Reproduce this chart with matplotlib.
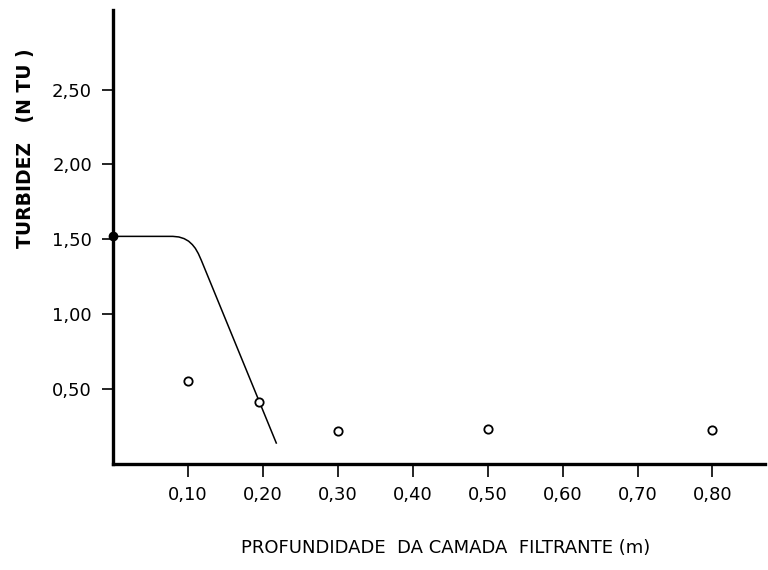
import numpy as np
import matplotlib.pyplot as plt

# pontos medidos (circulos abertos)
prof = [0.10, 0.195, 0.30, 0.50, 0.80]
turbidez = [0.555, 0.415, 0.222, 0.233, 0.227]

# turbidez inicial (ponto cheio no eixo)
prof_ini = [0.0]
turb_ini = [1.52]

# curva tracada a mao
curva_x = [0.0, 0.05, 0.080, 0.088, 0.095, 0.101, 0.106, 0.110, 0.114, 0.118, 0.218]
curva_y = [1.52, 1.52, 1.520, 1.516, 1.505, 1.488, 1.465, 1.440, 1.405, 1.36, 0.14]

xticks = [0.10, 0.20, 0.30, 0.40, 0.50, 0.60, 0.70, 0.80]
xlabels = ['0,10', '0,20', '0,30', '0,40', '0,50', '0,60', '0,70', '0,80']
yticks = [0.50, 1.00, 1.50, 2.00, 2.50]
ylabels = ['0,50', '1,00', '1,50', '2,00', '2,50']

fig = plt.figure(figsize=(7.68, 5.70), dpi=100)
ax = fig.add_axes([0.147, 0.186, 0.849, 0.796])

ax.plot(curva_x, curva_y, color='black', lw=1.1)
ax.plot(prof, turbidez, 'o', mfc='white', mec='black', mew=1.3, ms=6)
ax.plot(prof_ini, turb_ini, 'o', color='black', ms=6, clip_on=False, zorder=5)

ax.set_xlim(0, 0.87)
ax.set_ylim(0, 3.03)

ax.spines['top'].set_visible(False)
ax.spines['right'].set_visible(False)
ax.spines['left'].set_linewidth(2.4)
ax.spines['bottom'].set_linewidth(2.4)

ax.set_xticks(xticks)
ax.set_xticklabels(xlabels, fontsize=13)
ax.set_yticks(yticks)
ax.set_yticklabels(ylabels, fontsize=13)
ax.tick_params(axis='x', direction='out', length=9, width=1.2, pad=7)
ax.tick_params(axis='y', direction='out', length=8, width=1.2, pad=7)

fig.text(0.033, 0.74, 'TURBIDEZ   (N TU )', rotation=90, ha='center', va='center',
         fontsize=13.5, fontweight='bold')
fig.text(0.58, 0.039, 'PROFUNDIDADE  DA CAMADA  FILTRANTE (m)', ha='center', va='center',
         fontsize=13)

fig.savefig('out.png', dpi=100)
